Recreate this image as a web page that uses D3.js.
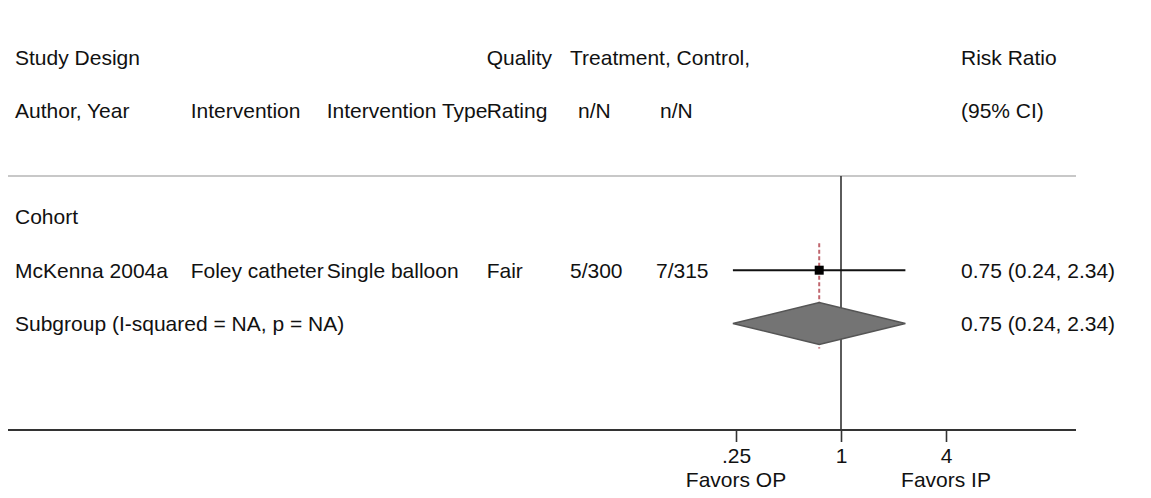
<!DOCTYPE html>
<html>
<head>
<meta charset="utf-8">
<script src="https://cdn.jsdelivr.net/npm/d3@7"></script>
<style>
  html, body { margin: 0; padding: 0; background: #fff; }
  svg { display: block; }
  text { font-family: "Liberation Sans", Arial, Helvetica, sans-serif; font-size: 21px; fill: #111; }
</style>
</head>
<body>
<svg id="chart" width="1151" height="498"></svg>
<script>
// Header lines of the table
const headerTop = [
  { col: "study", text: "Study Design" },
  { col: "quality", text: "Quality" },
  { col: "treat", text: "Treatment, Control," },
  { col: "rr", text: "Risk Ratio" }
];
const headerBottom = [
  { col: "study", text: "Author, Year" },
  { col: "interv", text: "Intervention" },
  { col: "itype", text: "Intervention Type" },
  { col: "quality", text: "Rating" },
  { col: "treatN", text: "n/N" },
  { col: "ctrlN", text: "n/N" },
  { col: "rr", text: "(95% CI)" }
];

// Subgroup and study data
const groupLabel = "Cohort";
const studies = ["McKenna 2004a"];
const interventions = ["Foley catheter"];
const interventionTypes = ["Single balloon"];
const qualityRatings = ["Fair"];
const treatmentCounts = ["5/300"];
const controlCounts = ["7/315"];
const riskRatios = [0.75];
const ciLower = [0.24];
const ciUpper = [2.34];

// Pooled subgroup estimate
const subgroupLabel = "Subgroup (I-squared = NA, p = NA)";
const pooledRR = 0.75;
const pooledLower = 0.24;
const pooledUpper = 2.34;

// Axis ticks and direction labels
const tickValues = [0.25, 1, 4];
const tickLabels = [".25", "1", "4"];
const favourLabels = [{ at: 0.25, text: "Favors OP" }, { at: 4, text: "Favors IP" }];

const fmt = d3.format(".2f");
const rrText = (r, lo, hi) => `${fmt(r)} (${fmt(lo)}, ${fmt(hi)})`;

// ---- layout ----
const colX = {
  study: 15, interv: 190.7, itype: 326.7, quality: 486.7,
  treat: 570, treatN: 578, ctrlN: 660, rr: 961
};
const rowColX = { treatN: 570, ctrlN: 656 };
const lineLeft = 8, lineRight = 1076;
const sepY = 176, axisY = 430;

const svg = d3.select("#chart");

// row centre positions
const yRow = d3.scaleLinear().domain([0, 1]).range([57, 110.3]);
const baseline = i => yRow(i) + 7.5;

// log-scaled risk-ratio axis
const x = d3.scaleLog().domain([0.25, 4]).range([736, 946]);

// header text
svg.append("g").selectAll("text").data(headerTop).join("text")
  .attr("x", d => colX[d.col]).attr("y", baseline(0)).text(d => d.text);
svg.append("g").selectAll("text").data(headerBottom).join("text")
  .attr("x", d => colX[d.col]).attr("y", baseline(1)).text(d => d.text);

// separator under the header
svg.append("line")
  .attr("x1", lineLeft).attr("x2", lineRight)
  .attr("y1", sepY).attr("y2", sepY)
  .attr("stroke", "#c8c8c8").attr("stroke-width", 2);

// null line at RR = 1
svg.append("line")
  .attr("x1", x(1)).attr("x2", x(1))
  .attr("y1", sepY).attr("y2", axisY)
  .attr("stroke", "#333").attr("stroke-width", 1.6);

// group label
svg.append("text").attr("x", colX.study).attr("y", baseline(3)).text(groupLabel);

// study rows
const rows = studies.map((s, i) => ({
  study: s, interv: interventions[i], itype: interventionTypes[i],
  quality: qualityRatings[i], treatN: treatmentCounts[i], ctrlN: controlCounts[i],
  rr: riskRatios[i], lo: ciLower[i], hi: ciUpper[i], row: 4 + i
}));

// pooled-estimate reference line (dashed)
const subgroupRow = 4 + studies.length;
svg.append("line")
  .attr("x1", x(pooledRR)).attr("x2", x(pooledRR))
  .attr("y1", yRow(4) - 27).attr("y2", yRow(subgroupRow) + 25)
  .attr("stroke", "#c0666e").attr("stroke-width", 2)
  .attr("stroke-dasharray", "4,2.5");

const rg = svg.append("g").selectAll("g").data(rows).join("g");
["study", "interv", "itype", "quality", "treatN", "ctrlN"].forEach(k => {
  rg.append("text")
    .attr("x", rowColX[k] !== undefined ? rowColX[k] : colX[k])
    .attr("y", d => baseline(d.row)).text(d => d[k]);
});
rg.append("text").attr("x", colX.rr).attr("y", d => baseline(d.row))
  .text(d => rrText(d.rr, d.lo, d.hi));
rg.append("line")
  .attr("x1", d => x(d.lo)).attr("x2", d => x(d.hi))
  .attr("y1", d => yRow(d.row)).attr("y2", d => yRow(d.row))
  .attr("stroke", "#111").attr("stroke-width", 2);
rg.append("rect")
  .attr("x", d => x(d.rr) - 4.5).attr("y", d => yRow(d.row) - 4.5)
  .attr("width", 9).attr("height", 9).attr("fill", "#000");

// subgroup diamond
const yc = yRow(subgroupRow);
svg.append("text").attr("x", colX.study).attr("y", baseline(subgroupRow)).text(subgroupLabel);
svg.append("text").attr("x", colX.rr).attr("y", baseline(subgroupRow))
  .text(rrText(pooledRR, pooledLower, pooledUpper));
svg.append("path")
  .attr("d", d3.line()([
    [x(pooledLower), yc], [x(pooledRR), yc - 21],
    [x(pooledUpper), yc], [x(pooledRR), yc + 21]
  ]) + "Z")
  .attr("fill", "#747474").attr("stroke", "#555").attr("stroke-width", 1.5);

// bottom axis
svg.append("line")
  .attr("x1", lineLeft).attr("x2", lineRight)
  .attr("y1", axisY).attr("y2", axisY)
  .attr("stroke", "#333").attr("stroke-width", 2);

const axis = d3.axisBottom(x)
  .tickValues(tickValues)
  .tickFormat((d, i) => tickLabels[i])
  .tickSize(12).tickPadding(8);
const ag = svg.append("g").attr("transform", `translate(0,${axisY})`).call(axis);
ag.select(".domain").remove();
ag.selectAll(".tick line").attr("stroke", "#333").attr("stroke-width", 1.6);
ag.selectAll(".tick text")
  .attr("font-family", null).attr("font-size", null)
  .attr("dy", null).attr("y", 33).style("fill", "#111");
ag.attr("font-family", null).attr("font-size", null);

svg.append("g").selectAll("text").data(favourLabels).join("text")
  .attr("x", d => x(d.at)).attr("y", 487).attr("text-anchor", "middle")
  .text(d => d.text);
</script>
</body>
</html>
